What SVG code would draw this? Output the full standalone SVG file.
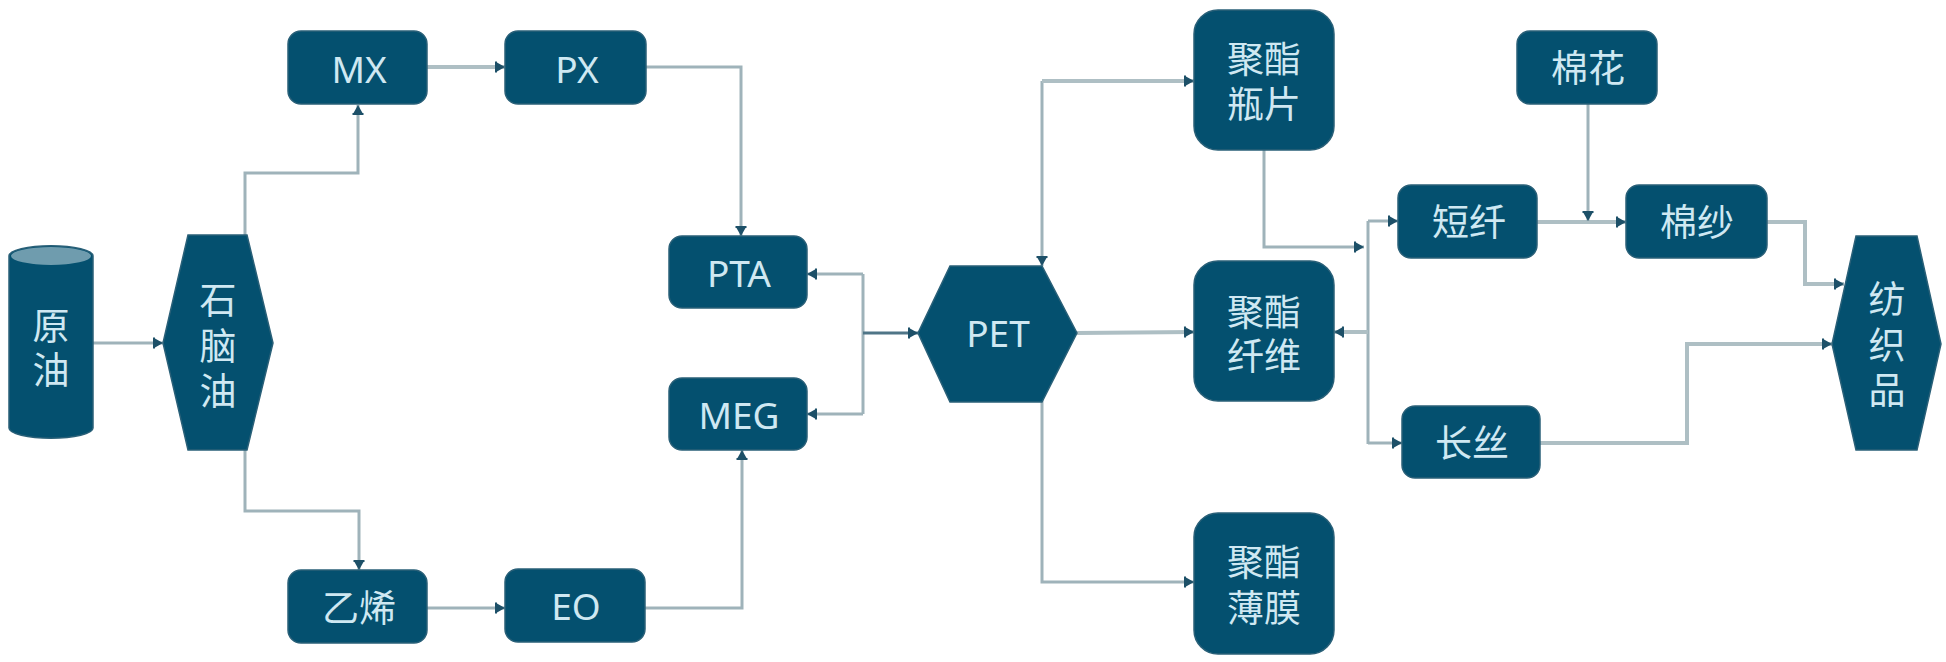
<svg xmlns="http://www.w3.org/2000/svg" width="1946" height="662" viewBox="0 0 1946 662">
<style>
.n{fill:#04506f;stroke:#2a6078;stroke-width:1.5}
.t{font-family:"Noto Sans","Noto Sans CJK SC",sans-serif;font-size:37px;fill:#cfe8f2;text-anchor:middle}
.c{fill:none;stroke:#9fb3ba;stroke-width:3;marker-end:url(#a)}
.p{fill:none;stroke:#9fb3ba;stroke-width:3}
.h{stroke-width:4;stroke:#aebfc4}
</style>
<defs>
<marker id="a" markerUnits="userSpaceOnUse" markerWidth="14" markerHeight="14" refX="11" refY="7" orient="auto">
<path d="M1 1.500V12.500L3 12.500V11.500L11 7L3 2.500V1.500Z" fill="#1d5068"/>
</marker>
</defs>
<rect width="1946" height="662" fill="#fff"/>
<g id="connectors">
<path class="c" d="M93 343H163"/>
<path class="c" d="M245 235V173H358V105"/>
<path class="c h" d="M427 67H505"/>
<path class="c" d="M646 67H741V236"/>
<path class="c" d="M245 450V511H359V570"/>
<path class="c" d="M427 608H505"/>
<path class="c" d="M645 608H742V450"/>
<path class="p" d="M863 274V414"/>
<path class="c" d="M863 274H807"/>
<path class="c" d="M863 414H807"/>
<path class="c" d="M863 333H918" style="stroke:#4f7587;stroke-width:3"/>
<path class="c" d="M1042 81V266"/>
<path class="c h" d="M1042 81H1194"/>
<path class="c" d="M1042 400V582H1194"/>
<path class="c h" d="M1077 333L1194 332"/>
<path class="c" d="M1264 150V247H1364"/>
<path class="p" d="M1368 221V444"/>
<path class="c" d="M1368 221H1398"/>
<path class="c" d="M1368 443H1402"/>
<path class="c h" d="M1368 332H1334"/>
<path class="c h" d="M1537 222H1626"/>
<path class="c" d="M1588 104V221"/>
<path class="c h" d="M1767 222H1805V284H1844"/>
<path class="c h" d="M1540 443H1687V344H1832"/>
</g>
<g id="crude">
<path class="n" d="M9 256A41 10 0 0 1 93 256V428A41 10 0 0 1 9 428Z"/>
<ellipse cx="51" cy="256" rx="40" ry="9" fill="#6f9cae"/>
<text class="t"><tspan x="51" y="340">原</tspan><tspan x="51" y="384">油</tspan></text>
</g>
<g id="naphtha">
<path class="n" d="M188 235H247L273 343L247 450H188L163 343Z"/>
<text class="t"><tspan x="218" y="314">石</tspan><tspan x="218" y="360">脑</tspan><tspan x="218" y="405">油</tspan></text>
</g>
<g id="mx"><rect class="n" x="288" y="31" width="139" height="73" rx="13"/><text class="t" x="359" y="83">MX</text></g>
<g id="px"><rect class="n" x="505" y="31" width="141" height="73" rx="13"/><text class="t" x="577" y="83">PX</text></g>
<g id="pta"><rect class="n" x="669" y="236" width="138" height="72" rx="13"/><text class="t" x="739" y="287">PTA</text></g>
<g id="meg"><rect class="n" x="669" y="378" width="138" height="72" rx="13"/><text class="t" x="739" y="429">MEG</text></g>
<g id="ethylene"><rect class="n" x="288" y="570" width="139" height="73" rx="13"/><text class="t" x="359" y="622">乙烯</text></g>
<g id="eo"><rect class="n" x="505" y="569" width="140" height="73" rx="13"/><text class="t" x="576" y="620">EO</text></g>
<g id="pet">
<path class="n" d="M950 266H1042L1077 333L1042 402H950L918 333Z"/>
<text class="t" x="998" y="347">PET</text>
</g>
<g id="bottle"><rect class="n" x="1194" y="10" width="140" height="140" rx="24"/><text class="t"><tspan x="1264" y="73">聚酯</tspan><tspan x="1264" y="118">瓶片</tspan></text></g>
<g id="fiber"><rect class="n" x="1194" y="261" width="140" height="140" rx="24"/><text class="t"><tspan x="1264" y="326">聚酯</tspan><tspan x="1264" y="370">纤维</tspan></text></g>
<g id="film"><rect class="n" x="1194" y="513" width="140" height="141" rx="24"/><text class="t"><tspan x="1264" y="576">聚酯</tspan><tspan x="1264" y="622">薄膜</tspan></text></g>
<g id="cotton"><rect class="n" x="1517" y="31" width="140" height="73" rx="13"/><text class="t" x="1588" y="82">棉花</text></g>
<g id="staple"><rect class="n" x="1398" y="185" width="139" height="73" rx="13"/><text class="t" x="1469" y="236">短纤</text></g>
<g id="yarn"><rect class="n" x="1626" y="185" width="141" height="73" rx="13"/><text class="t" x="1697" y="236">棉纱</text></g>
<g id="filament"><rect class="n" x="1402" y="406" width="138" height="72" rx="13"/><text class="t" x="1472" y="457">长丝</text></g>
<g id="textile">
<path class="n" d="M1856 236H1917L1941 344L1917 450H1856L1832 344Z"/>
<text class="t"><tspan x="1887" y="313">纺</tspan><tspan x="1887" y="359">织</tspan><tspan x="1887" y="404">品</tspan></text>
</g>
</svg>
